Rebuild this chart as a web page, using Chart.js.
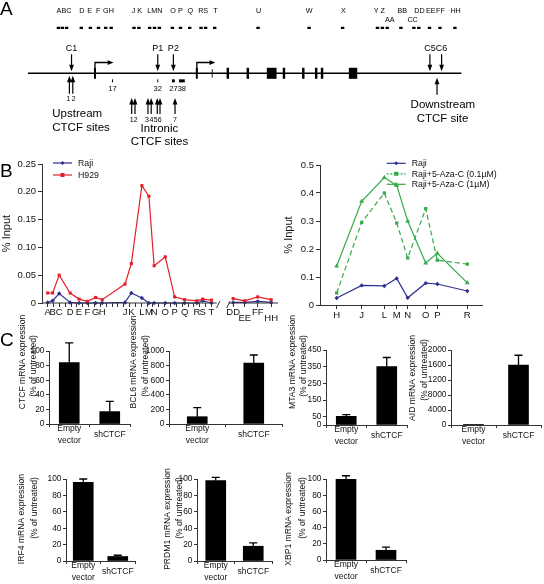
<!DOCTYPE html>
<html>
<head>
<meta charset="utf-8">
<script src="https://cdn.jsdelivr.net/npm/chart.js@4.4.1/dist/chart.umd.min.js"></script>
<style>
  html, body { margin: 0; padding: 0; background: #fff; }
  #fig { position: relative; width: 544px; height: 584px; overflow: hidden; }
  #fig canvas { position: absolute; }
</style>
</head>
<body>
<div id="fig"></div>
<script>
// ===== Panel A: gene map =====
const siteNames = ['A','B','C','D','E','F','G','H','J','K','L','M','N','O','P','Q','R','S','T','U','W','X','Y','Z','AA','BB','CC','DD','EE','FF','HH'];
const sitePos = [53.3,57.3,61.7,76.7,86,94.3,101.7,107.3,130.7,135.7,146.7,151.7,156.7,170,178.3,187.7,199.3,204,213.3,257.7,310,344.3,380,385,390,404,417.3,422.3,433.3,444,459.3];
const siteLabels = ['ABC','D','E','F','GH','J K','LMN','O','P','Q','RS','T','U','W','X','Y Z','BB','DD','EE','FF','HH'];
const siteLabelPos = [59,77.3,85.3,94,104.5,133.7,152,170.7,178.3,188.3,201.5,214,258.3,310,345,382,405.5,423,434.5,444.5,460];
const siteLabelsLow = ['AA','CC'];
const siteLabelLowPos = [392.7,416];
const exonStart = [89.7,194,210.3,225.5,246,266.7,283,302.8,316,322,350.7];
const exonEnd = [91.7,196,211.2,228,248.5,276.7,285.5,305.3,318.5,324.5,359.3];
const promoterPos = [90.7,195];
const probeNames = ['C1','P1','P2','C5','C6'];
const probePos = [66.7,155,171,433.7,445.7];
const primerNames = ['17','32','27','38'];
const primerStart = [108.2,154.5,169.5,176.7];
const primerEnd = [109.2,155.5,172.5,182.7];
const upstreamSites = ['1','2'];
const upstreamPos = [64.5,68];
const intronicSites = ['1','2','3','4','5','6','7'];
const intronicPos = [128.3,131.7,145,148.3,154.5,157.3,172.7];
const intronicLabelPos = [128.3,132.5,144,148.5,152.8,157,172.7];
const downstreamPos = [441];

// ===== Panel B left: ChIP, Raji vs H929 =====
const chipSites = ['A','B','C','D','E','F','G','H','J','K','L','M','N','O','P','Q','R','S','T'];
const chipPos = [0,0.85,1.97,3.83,5.36,6.78,8.19,9.32,13.22,14.3,16.1,17.3,18.2,20.1,21.7,23.4,25.5,26.5,28.0];
const chipRaji = [0.001,0.004,0.017,0.001,0,0,0,0,0.001,0.018,0.009,0,0,0,0,0,0,0.004,0];
const chipH929 = [0.018,0.018,0.050,0.018,0.007,0.003,0.010,0.006,0.034,0.071,0.211,0.192,0.067,0.083,0.011,0.006,0.004,0.007,0.005];
const dsSites = ['DD','EE','FF','HH'];
const dsPos = [31.7,33.7,35.9,38.2];
const dsRaji = [0.001,0.001,0.003,0.001];
const dsH929 = [0.008,0.004,0.011,0.006];
const axisBreak = [28.9,30.9];

// ===== Panel B right: 5-Aza-C =====
const azaSites = ['H','J','L','M','N','O','P','R'];
const azaPos = [1.67,4.17,6.43,7.67,8.77,10.57,11.73,14.73];
const azaRaji = [0.025,0.070,0.068,0.095,0.026,0.078,0.075,0.050];
const aza01 = [0.043,0.295,0.400,0.293,0.168,0.344,0.160,0.146];
const aza1 = [0.139,0.370,0.455,0.427,0.300,0.150,0.185,0.079];

// ===== Panel C: mRNA expression =====
const groups = [['Empty', 'vector'], 'shCTCF'];
const ctcfExpr = [84, 17], ctcfErr = [111, 31];
const bcl6Expr = [100, 835], bcl6Err = [225, 945];
const mta3Expr = [52, 350], mta3Err = [62, 405];
const aidExpr = [5, 1600], aidErr = [null, 1860];
const irf4Expr = [96, 5.5], irf4Err = [100, 7];
const prdm1Expr = [98, 18], prdm1Err = [102, 22];
const xbp1Expr = [100, 12], xbp1Err = [104, 16];
const pctTicks = [0, 20, 40, 60, 80, 100];
const bcl6Ticks = [0, 200, 400, 600, 800, 1000];
const mta3Ticks = [0, 50, 150, 250, 350, 450];
const aidTicks = [0, 400, 800, 1200, 1600, 2000];
const aidTickLabels = ['0', '4000', '8000', '1200', '1600', '2000'];

const FONT = "'Liberation Sans', Arial, Helvetica, sans-serif";
const NARROW = "'Liberation Sans Narrow', 'Liberation Sans', Arial, sans-serif";
Chart.defaults.font.family = FONT;
Chart.defaults.color = '#111';
Chart.defaults.animation = false;
Chart.defaults.responsive = false;
Chart.defaults.plugins.legend.display = false;
Chart.defaults.plugins.tooltip.enabled = false;

const AXIS = '#333';
const BLUE = '#2e3192', RED = '#e4202a', GREEN = '#35ab4a';

const fig = document.getElementById('fig');
function addCanvas(left, top, width, height) {
  const c = document.createElement('canvas');
  c.style.left = left + 'px';
  c.style.top = top + 'px';
  c.width = width;
  c.height = height;
  fig.appendChild(c);
  return c;
}

function marker(ctx, style, x, y, r, color) {
  ctx.save();
  ctx.fillStyle = color;
  ctx.beginPath();
  if (style === 'rect') {
    ctx.rect(x - r, y - r, 2 * r, 2 * r);
  } else if (style === 'rectRot') {
    ctx.moveTo(x, y - r); ctx.lineTo(x + r, y); ctx.lineTo(x, y + r); ctx.lineTo(x - r, y); ctx.closePath();
  } else {
    ctx.moveTo(x, y - r); ctx.lineTo(x + r, y + r * 0.75); ctx.lineTo(x - r, y + r * 0.75); ctx.closePath();
  }
  ctx.fill();
  ctx.restore();
}

function arrow(ctx, x, tail, tip) {
  const dir = tip > tail ? 1 : -1;
  ctx.lineWidth = 1.2;
  ctx.beginPath();
  ctx.moveTo(x, tail);
  ctx.lineTo(x, tip - dir * 5);
  ctx.stroke();
  ctx.beginPath();
  ctx.moveTo(x, tip);
  ctx.lineTo(x - 2.4, tip - dir * 6.5);
  ctx.lineTo(x + 2.4, tip - dir * 6.5);
  ctx.closePath();
  ctx.fill();
}

// ===== Panel A =====
const geneMap = {
  id: 'geneMap',
  afterDatasetsDraw(chart) {
    const ctx = chart.ctx;
    const X = v => chart.scales.x.getPixelForValue(v);
    const Y = v => chart.scales.y.getPixelForValue(v);
    ctx.save();
    ctx.fillStyle = '#000';
    ctx.strokeStyle = '#000';
    ctx.font = '19px ' + FONT;
    ctx.textAlign = 'left';
    ctx.textBaseline = 'alphabetic';
    ctx.fillText('A', 0, 15);

    ctx.textAlign = 'center';
    ctx.textBaseline = 'middle';
    ctx.font = '7.2px ' + FONT;
    siteLabels.forEach((s, i) => ctx.fillText(s, X(siteLabelPos[i]), Y(4.5)));
    siteLabelsLow.forEach((s, i) => ctx.fillText(s, X(siteLabelLowPos[i]), Y(14.5)));

    // chromosome line
    ctx.lineWidth = 1.5;
    ctx.beginPath();
    ctx.moveTo(X(22), Y(72.7));
    ctx.lineTo(X(466), Y(72.7));
    ctx.stroke();

    // exons
    exonStart.forEach((s, i) => {
      const thin = exonEnd[i] - s < 1.5;
      const y0 = thin ? 68.3 : 66.7, y1 = thin ? 77.3 : 78.7;
      ctx.fillRect(X(s), Y(y0), X(exonEnd[i]) - X(s), Y(y1) - Y(y0));
    });

    // promoters
    promoterPos.forEach(p => {
      ctx.lineWidth = 1.3;
      ctx.beginPath();
      ctx.moveTo(X(p), Y(72.7));
      ctx.lineTo(X(p), Y(61));
      ctx.lineTo(X(p + 14), Y(61));
      ctx.stroke();
      ctx.beginPath();
      ctx.moveTo(X(p + 19), Y(61));
      ctx.lineTo(X(p + 13), Y(58.4));
      ctx.lineTo(X(p + 13), Y(63.6));
      ctx.closePath();
      ctx.fill();
    });

    // probes above the line
    ctx.font = '9px ' + FONT;
    probeNames.forEach((s, i) => {
      ctx.fillText(s, X(probePos[i]), Y(46));
      arrow(ctx, X(probePos[i]), Y(52), Y(70.5));
    });

    // primer marks below the line
    ctx.font = '7.5px ' + FONT;
    primerNames.forEach((s, i) => {
      ctx.fillRect(X(primerStart[i]), Y(79.3), X(primerEnd[i]) - X(primerStart[i]), 3);
      ctx.fillText(s, X((primerStart[i] + primerEnd[i]) / 2), Y(89.3));
    });

    // CTCF sites
    ctx.font = '7px ' + FONT;
    upstreamPos.forEach(p => arrow(ctx, X(p), Y(95), Y(75.5)));
    upstreamSites.forEach((s, i) => ctx.fillText(s, X(upstreamPos[i] + (i ? 1 : -1)), Y(100.5)));
    intronicPos.forEach(p => arrow(ctx, X(p), Y(117), Y(99.5)));
    intronicSites.forEach((s, i) => ctx.fillText(s, X(intronicLabelPos[i]), Y(123.3)));
    downstreamPos.forEach(p => arrow(ctx, X(p), Y(96), Y(77.5)));

    ctx.font = '11.5px ' + FONT;
    ctx.textAlign = 'left';
    ctx.fillText('Upstream', X(47), Y(116.7));
    ctx.fillText('CTCF sites', X(47), Y(131.7));
    ctx.textAlign = 'center';
    ctx.fillText('Intronic', X(156.7), Y(133.3));
    ctx.fillText('CTCF sites', X(156.8), Y(147.3));
    ctx.fillText('Downstream', X(447), Y(107.3));
    ctx.fillText('CTCF site', X(446.7), Y(122.3));
    ctx.restore();
  }
};

new Chart(addCanvas(0, 0, 544, 160), {
  type: 'scatter',
  data: {
    datasets: [{
      data: sitePos.map(x => ({ x, y: 23.3 })),
      pointStyle: 'line', radius: 1.7, borderWidth: 2.4, borderColor: '#000'
    }]
  },
  options: {
    layout: { padding: 0 },
    scales: {
      x: { type: 'linear', min: 0, max: 544, display: false },
      y: { type: 'linear', min: 0, max: 160, reverse: true, display: false }
    }
  },
  plugins: [geneMap]
});

// ===== shared helpers for line panels =====
function lineLegend(items, lx, ty, dy, fontSize) {
  return {
    id: 'lineLegend',
    afterDraw(chart) {
      const ctx = chart.ctx;
      ctx.save();
      ctx.font = fontSize + 'px ' + FONT;
      ctx.textBaseline = 'middle';
      ctx.textAlign = 'left';
      items.forEach((it, i) => {
        const y = ty + i * dy;
        ctx.strokeStyle = it.color;
        ctx.lineWidth = 1.2;
        ctx.setLineDash(it.dash || []);
        ctx.beginPath();
        ctx.moveTo(lx, y);
        ctx.lineTo(lx + 19, y);
        ctx.stroke();
        ctx.setLineDash([]);
        marker(ctx, it.style, lx + 9.5, y, it.r, it.color);
        ctx.fillStyle = '#111';
        ctx.fillText(it.label, lx + 25, y + 0.5);
      });
      ctx.restore();
    }
  };
}

function yAxis(max, step, fmt, w) {
  return {
    min: 0, max,
    border: { display: true, color: AXIS, width: 1 },
    grid: { drawOnChartArea: false, drawTicks: true, tickLength: 4, color: AXIS },
    ticks: { stepSize: step, padding: 2, font: { size: 9.5 }, color: '#111', callback: fmt },
    title: { display: true, text: '% Input', font: { size: 11 }, padding: 0, color: '#111' },
    afterFit: s => { s.width = w; }
  };
}

// ===== Panel B left =====
const blTickVals = [];
for (let k = 0; k <= 28; k++) blTickVals.push(k);
dsPos.forEach(v => blTickVals.push(v));

const blTop = 150;
const blExtras = {
  id: 'blExtras',
  afterDraw(chart) {
    const ctx = chart.ctx, xs = chart.scales.x, a = chart.chartArea;
    const y = a.bottom;
    ctx.save();
    ctx.strokeStyle = AXIS;
    ctx.lineWidth = 1;
    ctx.beginPath();
    ctx.moveTo(a.left, y); ctx.lineTo(xs.getPixelForValue(axisBreak[0]), y);
    ctx.moveTo(xs.getPixelForValue(axisBreak[1]), y); ctx.lineTo(a.right, y);
    ctx.stroke();
    axisBreak.forEach((v, k) => {
      const x = xs.getPixelForValue(v) + (k === 0 ? 1.5 : 0);
      ctx.beginPath();
      ctx.moveTo(x - 1.7, y + 5);
      ctx.lineTo(x + 1.7, y - 2);
      ctx.stroke();
    });
    // category letters
    ctx.fillStyle = '#111';
    ctx.font = '9.5px ' + FONT;
    ctx.textAlign = 'center';
    ctx.textBaseline = 'top';
    chipSites.forEach((s, i) => ctx.fillText(s, xs.getPixelForValue(chipPos[i]), y + 5));
    dsSites.forEach((s, i) => ctx.fillText(s, xs.getPixelForValue(dsPos[i]), y + 5 + (i % 2 ? 6 : 0)));
    ctx.fillStyle = '#000';
    ctx.font = '19px ' + FONT;
    ctx.textAlign = 'left';
    ctx.textBaseline = 'alphabetic';
    ctx.fillText('B', 0, 177 - blTop);
    ctx.restore();
  }
};

function seg(pos, vals) {
  return pos.map((x, i) => ({ x, y: vals[i] }));
}

new Chart(addCanvas(0, blTop, 282, 175), {
  type: 'scatter',
  data: {
    datasets: [
      {
        data: seg(chipPos, chipH929).concat([{ x: 30, y: null }], seg(dsPos, dsH929)),
        borderColor: RED, backgroundColor: RED, pointStyle: 'rect', radius: 2.2, borderWidth: 1.2,
        pointBorderWidth: 0, showLine: true, spanGaps: false, clip: false
      },
      {
        data: seg(chipPos, chipRaji).concat([{ x: 30, y: null }], seg(dsPos, dsRaji)),
        borderColor: BLUE, backgroundColor: BLUE, pointStyle: 'rectRot', radius: 2.2, borderWidth: 1.2,
        pointBorderWidth: 0, showLine: true, spanGaps: false, clip: false
      }
    ]
  },
  options: {
    layout: { padding: { top: 14, right: 2, left: 0, bottom: 0 } },
    scales: {
      x: {
        type: 'linear', min: -0.97, max: 39.37,
        border: { display: false },
        grid: { drawOnChartArea: false, drawTicks: true, tickLength: 4, color: AXIS },
        ticks: { autoSkip: false, maxRotation: 0, padding: 1, font: { size: 9.5 }, callback: () => '' },
        afterBuildTicks: s => { s.ticks = blTickVals.map(v => ({ value: v })); },
        afterFit: s => { s.height = 22; }
      },
      y: yAxis(0.25, 0.05, v => (v === 0 ? '0' : v.toFixed(2)), 42)
    }
  },
  plugins: [blExtras, lineLegend([
    { label: 'Raji', color: BLUE, style: 'rectRot', r: 2 },
    { label: 'H929', color: RED, style: 'rect', r: 2 }
  ], 53, 163 - blTop, 12, 8.75)]
});

// ===== Panel B right =====
const brTop = 150, brLeft = 282;
new Chart(addCanvas(brLeft, brTop, 262, 175), {
  type: 'scatter',
  data: {
    datasets: [
      {
        data: seg(azaPos, aza01),
        borderColor: GREEN, backgroundColor: GREEN, pointStyle: 'rect', radius: 2.3, borderWidth: 1.2,
        borderDash: [5, 3], pointBorderWidth: 0, showLine: true, clip: false
      },
      {
        data: seg(azaPos, aza1),
        borderColor: GREEN, backgroundColor: GREEN, pointStyle: 'triangle', radius: 2.8, borderWidth: 1.2,
        pointBorderWidth: 0, showLine: true, clip: false
      },
      {
        data: seg(azaPos, azaRaji),
        borderColor: BLUE, backgroundColor: BLUE, pointStyle: 'rectRot', radius: 2.2, borderWidth: 1.2,
        pointBorderWidth: 0, showLine: true, clip: false
      }
    ]
  },
  options: {
    layout: { padding: { top: 15, right: 62, left: 0, bottom: 0 } },
    scales: {
      x: {
        type: 'linear', min: 0, max: 16.2,
        border: { display: true, color: AXIS, width: 1 },
        grid: { drawOnChartArea: false, drawTicks: true, tickLength: 4, color: AXIS },
        ticks: { autoSkip: false, maxRotation: 0, padding: 1, font: { size: 9.5 }, color: '#111',
          callback: v => { const i = azaPos.indexOf(v); return i >= 0 ? azaSites[i] : ''; } },
        afterBuildTicks: s => { s.ticks = azaPos.map(v => ({ value: v })); },
        afterFit: s => { s.height = 20; }
      },
      y: yAxis(0.5, 0.1, v => (v === 0 ? '0' : v.toFixed(1)), 38)
    }
  },
  plugins: [lineLegend([
    { label: 'Raji', color: BLUE, style: 'rectRot', r: 2 },
    { label: 'Raji+5-Aza-C (0.1µM)', color: GREEN, style: 'rect', r: 2, dash: [2, 1.5] },
    { label: 'Raji+5-Aza-C (1µM)', color: GREEN, style: 'triangle', r: 2.6 }
  ], 386.7 - brLeft, 163.3 - brTop, 10.5, 8.75)]
});

// ===== Panel C: bar charts =====
function barPanel(o) {
  const yw = Math.min(58, o.l);
  const padTop = 42, xh = 26, padRight = 8;
  const left = o.l - yw, top = o.t - padTop;
  const w = o.r - left + padRight, h = (o.b - o.t) + padTop + xh;
  const cv = addCanvas(left, top, w, h);

  const extras = {
    id: 'extras',
    afterDatasetsDraw(chart) {
      const ctx = chart.ctx, ys = chart.scales.y;
      const bars = chart.getDatasetMeta(0).data;
      ctx.save();
      ctx.strokeStyle = '#000';
      ctx.lineWidth = 1.3;
      o.err.forEach((top, i) => {
        if (top == null) return;
        const x = bars[i].x, y0 = ys.getPixelForValue(o.values[i]), y1 = ys.getPixelForValue(top);
        ctx.beginPath();
        ctx.moveTo(x, y0); ctx.lineTo(x, y1);
        ctx.moveTo(x - 4, y1); ctx.lineTo(x + 4, y1);
        ctx.stroke();
      });
      ctx.fillStyle = '#111';
      ctx.font = '8.6px ' + FONT;
      ctx.textAlign = 'center';
      ctx.textBaseline = 'middle';
      o.title.forEach((line, j) => {
        ctx.save();
        ctx.translate(o.titleX[j] - left, o.titleY[j] - top);
        ctx.rotate(-Math.PI / 2);
        ctx.fillText(line, 0, 0);
        ctx.restore();
      });
      if (o.letter) {
        ctx.fillStyle = '#000';
        ctx.font = '19px ' + FONT;
        ctx.textAlign = 'left';
        ctx.textBaseline = 'alphabetic';
        ctx.fillText(o.letter, 0 - left, 346 - top);
      }
      ctx.restore();
    }
  };

  new Chart(cv, {
    type: 'bar',
    data: {
      labels: groups,
      datasets: [{ data: o.values, backgroundColor: '#000', borderWidth: 0, barThickness: 20 }]
    },
    options: {
      layout: { padding: { top: padTop, right: padRight, left: 0, bottom: 0 } },
      scales: {
        x: {
          type: 'category',
          border: { display: true, color: AXIS, width: 1 },
          grid: { offset: true, drawOnChartArea: false, drawTicks: true, tickLength: 3, color: AXIS },
          ticks: { maxRotation: 0, autoSkip: false, padding: 1.5, crossAlign: 'center', color: '#111',
            font: { family: NARROW, size: 8.5, lineHeight: 1.4 } },
          afterFit: s => { s.height = xh; }
        },
        y: {
          min: 0, max: o.max,
          border: { display: true, color: AXIS, width: 1 },
          grid: { drawOnChartArea: false, drawTicks: true, tickLength: 3, color: AXIS },
          ticks: { padding: 1.5, color: '#111', font: { family: NARROW, size: 8.4 },
            callback: v => { const i = o.ticks.indexOf(v); return o.tickLabels ? o.tickLabels[i] : String(v); } },
          afterBuildTicks: s => { s.ticks = o.ticks.map(v => ({ value: v })); },
          afterFit: s => { s.width = yw; }
        }
      }
    },
    plugins: [extras]
  });
}

barPanel({ l: 49, r: 130, t: 351, b: 424, max: 100, ticks: pctTicks, values: ctcfExpr, err: ctcfErr,
  title: ['CTCF mRNA expression', '(% of untreated)'], titleX: [22.7, 34], titleY: [362, 366], letter: 'C' });
barPanel({ l: 169, r: 282, t: 351, b: 424, max: 1000, ticks: bcl6Ticks, values: bcl6Expr, err: bcl6Err,
  title: ['BCL6 mRNA expression', '(% of untreated)'], titleX: [134, 146], titleY: [362, 366] });
barPanel({ l: 326, r: 407, t: 350, b: 425, max: 450, ticks: mta3Ticks, values: mta3Expr, err: mta3Err,
  title: ['MTA3 mRNA expression', '(% of untreated)'], titleX: [293, 304], titleY: [362, 366] });
barPanel({ l: 451, r: 541, t: 350, b: 425, max: 2000, ticks: aidTicks, tickLabels: aidTickLabels, values: aidExpr, err: aidErr,
  title: ['AID mRNA expression', '(% of untreated)'], titleX: [413, 425], titleY: [378, 370] });
barPanel({ l: 66, r: 135, t: 479, b: 561, max: 100, ticks: pctTicks, values: irf4Expr, err: irf4Err,
  title: ['IRF4 mRNA expression', '(% of untreated)'], titleX: [22, 35], titleY: [519, 508] });
barPanel({ l: 197, r: 272, t: 479, b: 561, max: 100, ticks: pctTicks, values: prdm1Expr, err: prdm1Err,
  title: ['PRDM1 mRNA expression', '(% of untreated)'], titleX: [167.5, 180], titleY: [519, 508] });
barPanel({ l: 326, r: 406, t: 479, b: 560, max: 100, ticks: pctTicks, values: xbp1Expr, err: xbp1Err,
  title: ['XBP1 mRNA expression', '(% of untreated)'], titleX: [289, 303], titleY: [519, 508] });
</script>
</body>
</html>
